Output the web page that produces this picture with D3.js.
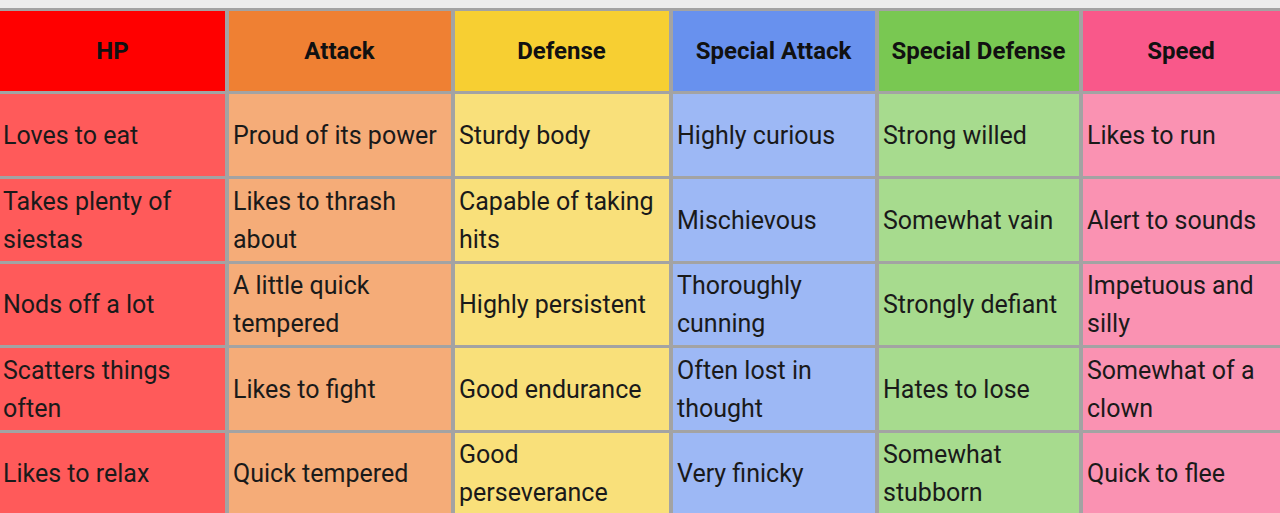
<!DOCTYPE html>
<html><head><meta charset="utf-8">
<script src="https://cdn.jsdelivr.net/npm/d3@7"></script>
<style>body{margin:0;background:#fff;overflow:hidden}</style>
</head><body><svg id="c" width="1280" height="513"></svg>
<script>
const headers = ["HP","Attack","Defense","Special Attack","Special Defense","Speed"];
const headerColors = ["#ff0000","#ef8033","#f7cf32","#6891ee","#79c852","#f9588a"];
const cellColors = ["#ff5a5a","#f5ac78","#f9e07a","#9db8f5","#a7db8e","#fa92b2"];
const rows = [
  ["Loves to eat","Proud of its power","Sturdy body","Highly curious","Strong willed","Likes to run"],
  ["Takes plenty of\nsiestas","Likes to thrash\nabout","Capable of taking\nhits","Mischievous","Somewhat vain","Alert to sounds"],
  ["Nods off a lot","A little quick\ntempered","Highly persistent","Thoroughly\ncunning","Strongly defiant","Impetuous and\nsilly"],
  ["Scatters things\noften","Likes to fight","Good endurance","Often lost in\nthought","Hates to lose","Somewhat of a\nclown"],
  ["Likes to relax","Quick tempered","Good\nperseverance","Very finicky","Somewhat\nstubborn","Quick to flee"]
];
const colEdges = [0,228,454,672,878,1082,1283];
const rowEdges = [11,94,179,264,348,433,516];

const svg = d3.select("#c");
svg.append("rect").attr("x",0).attr("y",0).attr("width",1280).attr("height",513).attr("fill","#a3a3a3");
svg.append("rect").attr("x",0).attr("y",0).attr("width",1280).attr("height",8).attr("fill","#ededed");

const x = i => colEdges[i], w = i => colEdges[i+1]-colEdges[i]-3;
const y = i => rowEdges[i], h = i => rowEdges[i+1]-rowEdges[i]-3;

const hg = svg.append("g");
headers.forEach((t,i)=>{
  hg.append("rect").attr("x",x(i)+(i?1:0)).attr("y",y(0)).attr("width",w(i)-(i?1:0)+(i?0:0)).attr("height",h(0)).attr("fill",headerColors[i]);
  hg.append("text").attr("x",x(i)+w(i)/2).attr("y",y(0)+h(0)/2).attr("dy","0.35em")
    .attr("text-anchor","middle").attr("font-family","Roboto").attr("font-weight","bold")
    .attr("font-size",24).attr("fill","#111").text(t);
});
rows.forEach((r,ri)=>{
  r.forEach((t,ci)=>{
    const g = svg.append("g");
    g.append("rect").attr("x",x(ci)+(ci?1:0)).attr("y",y(ri+1)).attr("width",w(ci)-(ci?1:0)).attr("height",h(ri+1)).attr("fill",cellColors[ci]);
    const lines = t.split("\n");
    const cy = y(ri+1)+h(ri+1)/2;
    const lh = 38;
    lines.forEach((l,li)=>{
      g.append("text").attr("x",x(ci)+(ci?5:3)).attr("y",cy+(li-(lines.length-1)/2)*lh).attr("dy","0.35em")
        .attr("font-family","Roboto").attr("font-size",25).attr("fill","#1a1a1a").text(l);
    });
  });
});
</script></body></html>
